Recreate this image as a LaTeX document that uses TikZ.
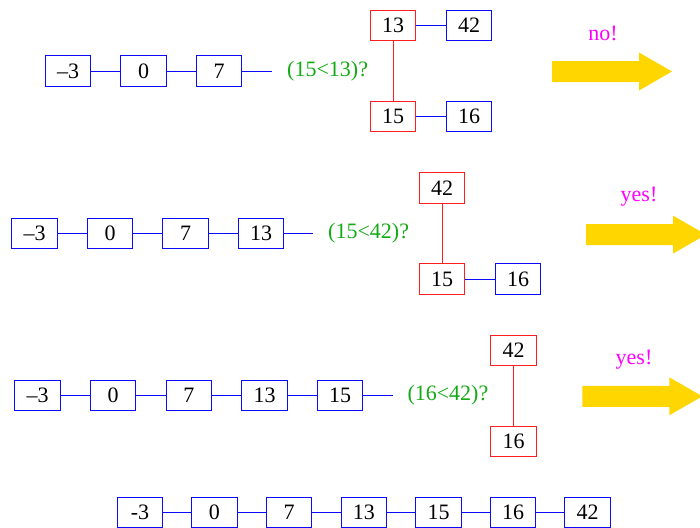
\documentclass[tikz,border=0pt]{standalone}
\usepackage{fontspec}
\setmainfont{Liberation Serif}
\definecolor{bblue}{RGB}{10,10,255}
\definecolor{rred}{RGB}{255,30,30}
\definecolor{ggreen}{RGB}{20,170,20}
\definecolor{mmag}{RGB}{255,0,255}
\definecolor{ygold}{RGB}{255,214,0}
\tikzset{
  cell/.style={draw=bblue, line width=1pt, minimum width=45.5pt, minimum height=30.5pt,
    inner sep=0pt, fill=white, font=\fontsize{22}{24}\selectfont},
  rcell/.style={cell, draw=rred},
  link/.style={draw=bblue, line width=1pt},
  rlink/.style={draw=rred, line width=1pt},
  cond/.style={text=ggreen, anchor=west, inner sep=0pt, font=\fontsize{22}{24}\selectfont},
  verdict/.style={text=mmag, inner sep=0pt, font=\fontsize{22}{24}\selectfont},
  yarrow/.pic={\fill[ygold] (0,-10.5) -- (87,-10.5) -- (87,-19) -- (120,0) -- (87,19) -- (87,10.5) -- (0,10.5) -- cycle;}
}
\begin{document}
\begin{tikzpicture}[x=1pt,y=-1pt]
\useasboundingbox (0,0) rectangle (700,527);
% Row 1
\node[cell] (a1) at (68,71) {--3};
\node[cell] (a2) at (143.5,71) {0};
\node[cell] (a3) at (219,71) {7};
\coordinate (t1) at (271.7,71);
\draw[link] (a1) -- (a2);
\draw[link] (a2) -- (a3);
\draw[link] (a3.east) -- (t1);
\node[cond] (c1) at (287,71) {(15<13)?};
\node[rcell] (a13) at (393,25.7) {13};
\node[cell] (a42) at (469,25.7) {42};
\node[rcell] (a15) at (393,116.3) {15};
\node[cell] (a16) at (469,116.3) {16};
\draw[link] (a13) -- (a42);
\draw[link] (a15) -- (a16);
\draw[rlink] (a13) -- (a15);
\pic at (552,71.5) {yarrow};
\node[verdict] (v1) at (603,33) {no!};
% Row 2
\node[cell] (b1) at (34.5,233.3) {--3};
\node[cell] (b2) at (110,233.3) {0};
\node[cell] (b3) at (185.5,233.3) {7};
\node[cell] (b4) at (261,233.3) {13};
\coordinate (t2) at (313.3,233.3);
\draw[link] (b1) -- (b2);
\draw[link] (b2) -- (b3);
\draw[link] (b3) -- (b4);
\draw[link] (b4.east) -- (t2);
\node[cond] (c2) at (328,233.3) {(15<42)?};
\node[rcell] (b42) at (442.2,188) {42};
\node[rcell] (b15) at (442.2,279) {15};
\node[cell] (b16) at (518,279) {16};
\draw[rlink] (b42) -- (b15);
\draw[link] (b15) -- (b16);
\pic at (586,234.6) {yarrow};
\node[verdict] (v2) at (639,196.7) {yes!};
% Row 3
\node[cell] (d1) at (37.5,395.7) {--3};
\node[cell] (d2) at (113.2,395.7) {0};
\node[cell] (d3) at (188.8,395.7) {7};
\node[cell] (d4) at (264.5,395.7) {13};
\node[cell] (d5) at (340,395.7) {15};
\coordinate (t3) at (392.7,395.7);
\draw[link] (d1) -- (d2);
\draw[link] (d2) -- (d3);
\draw[link] (d3) -- (d4);
\draw[link] (d4) -- (d5);
\draw[link] (d5.east) -- (t3);
\node[cond] (c3) at (407.3,395.7) {(16<42)?};
\node[rcell] (d42) at (513.5,350.3) {42};
\node[rcell] (d16) at (513.5,441.3) {16};
\draw[rlink] (d42) -- (d16);
\pic at (582.3,396.3) {yarrow};
\node[verdict] (v3) at (634,360) {yes!};
% Row 4
\node[cell] (e1) at (140,512.3) {-3};
\node[cell] (e2) at (214.3,512.3) {0};
\node[cell] (e3) at (289,512.3) {7};
\node[cell] (e4) at (363.8,512.3) {13};
\node[cell] (e5) at (438.5,512.3) {15};
\node[cell] (e6) at (513.2,512.3) {16};
\node[cell] (e7) at (587.7,512.3) {42};
\draw[link] (e1) -- (e2);
\draw[link] (e2) -- (e3);
\draw[link] (e3) -- (e4);
\draw[link] (e4) -- (e5);
\draw[link] (e5) -- (e6);
\draw[link] (e6) -- (e7);
\end{tikzpicture}
\end{document}
